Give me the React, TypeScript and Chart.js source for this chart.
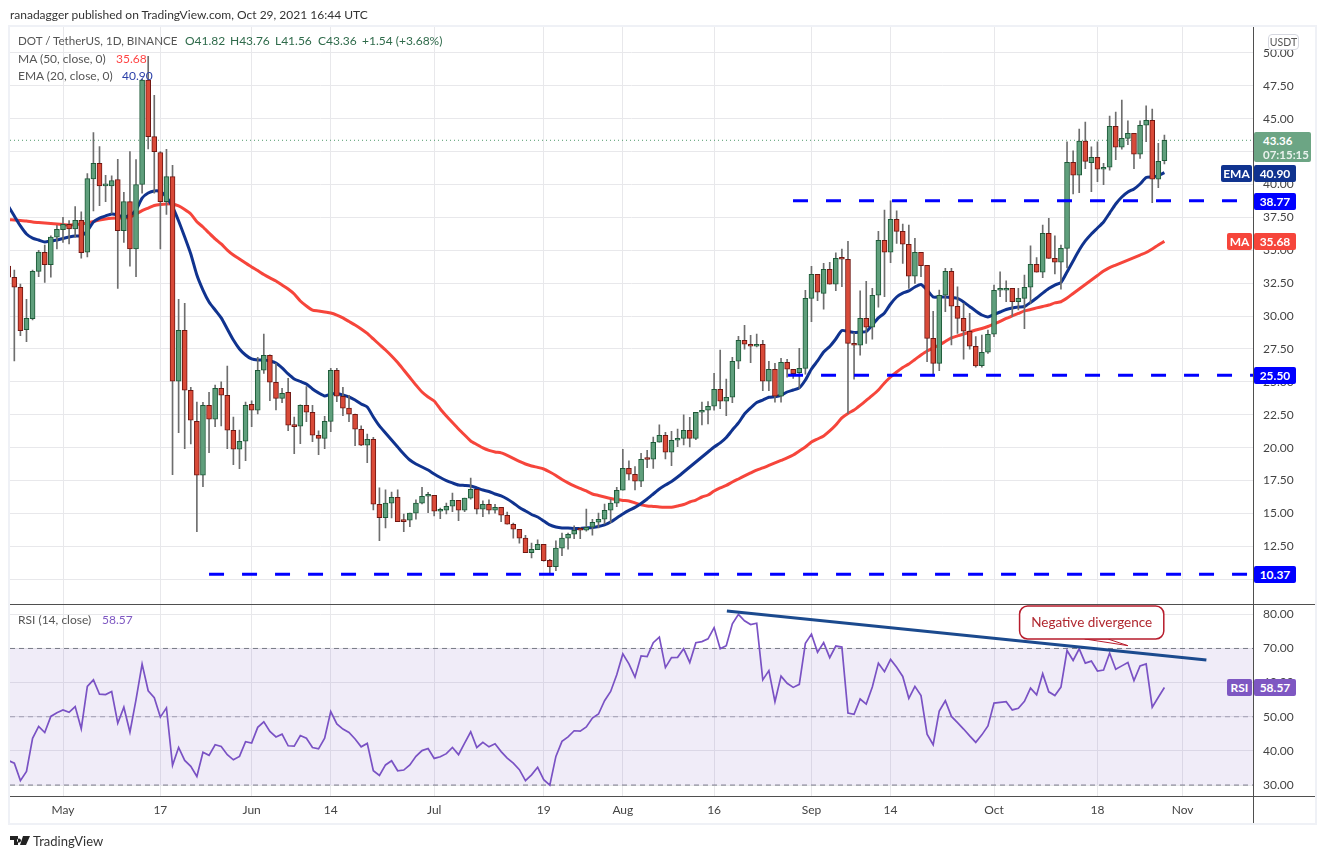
import React, { useEffect, useRef } from "react";
import { Chart, registerables } from "chart.js";

Chart.register(...registerables);

// Day numbers count from 1 May 2021 = 0; the first candle sits at day -9.
const firstDay = -9;

const opens = [
  33.8,32.95,32.19,28.97,29.8,33.4,34.85,33.9,36.0,36.57,
  36.97,36.62,37.27,34.85,40.43,41.6,39.9,39.9,40.38,36.5,
  38.7,35.1,40.0,47.93,43.64,42.43,38.7,40.6,25.05,28.92,
  24.36,22.0,17.9,23.22,22.16,24.51,23.98,21.32,19.88,20.49,
  23.3,22.84,25.88,27.02,24.97,23.75,24.21,21.7,21.63,23.22,
  22.69,20.94,20.71,22.0,25.88,23.91,23.0,22.54,21.4,20.18,
  20.64,15.7,14.68,15.78,16.23,14.45,14.48,15.02,15.78,16.31,
  16.38,15.17,15.24,15.55,16.0,15.24,16.16,16.84,15.32,15.7,
  15.24,15.47,14.86,14.18,13.8,13.12,12.02,12.25,12.66,11.44,
  10.96,12.36,13.12,13.42,13.8,13.72,13.95,14.33,14.56,15.24,
  15.78,16.76,18.43,17.98,17.45,19.15,19.12,20.41,20.94,19.65,
  20.56,20.71,21.32,20.71,22.69,22.84,23.15,24.44,23.53,23.83,
  26.57,28.16,27.86,27.71,27.86,25.05,25.96,23.91,26.49,25.96,
  25.7,26.03,31.35,33.18,31.73,33.56,32.42,34.39,34.32,27.93,
  27.78,29.83,29.15,31.58,35.76,34.85,37.36,36.44,35.46,33.03,
  34.85,33.86,28.31,26.41,31.58,33.4,30.75,29.83,28.85,27.71,
  26.23,27.25,28.62,31.96,31.96,32.11,31.1,31.35,32.19,33.94,
  33.33,36.29,34.39,34.09,35.15,41.69,40.7,43.3,41.66,42.07,
  41.16,41.31,44.42,42.83,43.51,43.89,42.3,44.5,44.88,40.4,41.82,
];

const highs = [
  34.0,33.5,32.44,31.28,33.5,35.0,35.4,36.1,36.9,37.5,
  37.25,38.33,37.93,40.83,43.94,42.88,40.7,40.66,41.92,39.4,
  42.5,41.9,48.0,49.75,46.77,42.5,42.68,41.45,31.28,30.97,
  24.59,23.47,23.45,24.21,24.76,25.0,26.2,22.33,21.34,23.47,
  23.55,26.87,28.64,27.05,26.41,24.51,25.27,22.33,23.25,24.64,
  23.22,21.27,22.39,26.03,26.03,24.59,23.98,22.56,21.65,21.04,
  20.79,16.94,16.79,16.63,16.79,14.96,15.02,16.03,16.99,16.61,
  16.38,15.4,15.78,16.54,16.0,16.16,17.68,16.84,15.95,16.03,
  15.7,15.47,15.11,14.26,13.8,13.34,12.74,12.99,12.66,11.52,
  12.91,13.5,13.5,14.05,13.95,15.34,14.56,15.02,15.72,16.08,
  16.99,19.88,18.99,18.56,19.57,19.8,20.81,21.73,21.17,21.25,
  21.42,22.49,22.31,22.69,23.47,23.5,25.65,27.42,25.22,26.87,
  28.47,29.3,28.54,28.64,28.16,26.57,26.41,26.79,26.72,25.96,
  27.55,31.96,33.78,33.18,34.01,34.09,34.8,35.1,35.68,28.72,
  31.91,32.65,32.11,36.44,38.06,38.75,37.99,37.0,36.92,35.91,
  34.85,33.86,30.37,31.98,33.63,33.63,32.23,30.97,30.21,28.44,
  28.56,28.94,32.36,33.37,32.67,32.11,32.11,33.12,35.33,34.44,
  36.92,37.43,36.09,35.4,43.25,42.55,44.22,44.75,42.87,43.25,
  41.61,45.2,45.51,46.42,44.83,43.89,44.83,45.97,45.74,43.13,43.76,
];

const lows = [
  30.0,26.6,28.51,28.06,29.7,33.0,32.55,32.95,35.1,35.6,
  35.48,36.0,34.4,34.5,38.0,38.4,38.7,37.8,32.1,35.6,
  33.8,33.0,39.35,42.7,39.35,35.1,37.73,17.95,21.14,19.92,
  20.28,13.62,17.04,19.62,21.6,21.65,19.92,18.71,18.4,19.01,
  21.6,22.56,25.65,23.57,22.87,23.42,21.29,19.54,20.3,21.98,
  20.46,19.47,19.92,21.22,23.5,22.43,21.98,20.15,20.15,18.86,
  15.27,12.93,13.9,14.66,14.38,13.62,14.0,14.56,15.72,15.06,
  14.81,14.6,14.96,15.14,14.45,15.14,16.08,14.96,14.76,14.96,
  15.02,14.38,14.18,13.12,12.74,12.02,11.62,12.25,11.37,10.35,
  10.65,11.79,12.28,13.09,13.09,13.65,13.34,13.9,14.2,14.3,
  15.52,16.76,17.55,16.79,17.04,18.48,18.43,20.41,19.14,18.63,
  20.08,20.2,20.05,20.6,21.73,21.8,22.84,22.96,22.43,23.42,
  26.0,27.48,26.46,27.65,24.33,24.33,23.45,23.45,25.35,25.27,
  24.51,25.58,29.57,31.17,30.52,32.42,31.93,32.23,22.61,25.2,
  27.02,27.93,28.24,30.67,31.47,34.06,35.53,34.01,32.11,32.49,
  33.0,26.54,25.45,25.85,30.33,27.8,28.69,26.72,27.48,26.11,
  26.11,27.17,28.44,31.47,31.1,29.95,30.46,29.04,30.97,33.33,
  32.92,34.39,33.2,32.04,33.66,39.28,39.38,41.2,39.45,40.21,
  39.99,41.08,41.89,42.68,43.03,41.2,41.99,43.25,38.62,39.76,41.56,
];

const closes = [
  32.95,32.19,28.89,29.83,33.4,34.87,33.9,36.0,36.6,36.97,
  36.62,37.27,34.82,40.45,41.6,39.9,39.95,40.3,36.5,38.7,
  35.1,40.0,47.93,43.64,42.5,38.7,40.6,25.05,28.92,24.36,
  22.08,17.9,23.22,22.16,24.51,23.98,21.32,19.88,20.49,23.22,
  22.84,25.88,27.02,24.97,23.75,24.13,21.7,21.6,23.22,22.69,
  20.94,20.71,22.0,25.88,23.91,23.0,22.54,21.4,20.18,20.64,
  15.7,14.68,15.78,16.23,14.38,14.38,15.02,15.78,16.31,16.38,
  15.17,15.32,15.55,16.0,15.24,16.16,16.84,15.32,15.7,15.24,
  15.47,14.86,14.18,13.8,13.12,12.02,12.28,12.66,11.41,10.96,
  12.36,13.12,13.42,13.72,13.72,13.95,14.33,14.56,15.24,15.78,
  16.76,18.43,17.98,17.45,19.12,19.1,20.41,20.94,19.65,20.56,
  20.6,21.32,20.71,22.69,22.84,23.15,24.44,23.53,23.83,26.57,
  28.16,27.86,27.71,27.86,25.05,25.96,23.91,26.49,25.96,25.62,
  26.03,31.35,33.18,31.81,33.56,32.42,34.39,34.32,27.93,27.78,
  29.83,29.15,31.58,35.76,34.85,37.36,36.44,35.46,33.03,34.85,
  33.83,28.31,26.41,31.58,33.4,30.75,29.83,28.85,27.71,26.21,
  27.25,28.62,31.96,32.0,32.11,31.1,31.35,32.19,33.94,33.33,
  36.29,34.39,34.09,35.15,41.69,40.7,43.3,41.76,42.07,41.16,
  41.31,44.42,42.83,43.51,43.89,42.3,44.5,44.88,40.4,41.77,43.36,
];

const ema20 = [
  38.37,37.61,36.85,36.24,35.93,35.78,35.63,35.71,35.78,35.9,
  36.01,36.09,36.09,36.47,37.15,37.45,37.61,37.76,37.68,37.53,
  37.68,38.06,38.97,39.35,39.51,39.47,39.05,38.29,37.23,36.01,
  34.72,33.12,31.98,31.07,30.46,
  29.86,29.02,28.18,27.5,27.04,26.74,26.66,26.66,26.59,26.43,
  26.06,25.6,25.22,25.03,24.84,24.46,24.16,23.93,24.08,24.12,
  24.0,23.85,23.62,23.32,23.09,22.33,21.65,21.12,20.58,20.05,
  19.52,19.06,18.76,18.53,18.3,18.0,17.73,17.5,17.32,17.16,
  17.13,17.09,16.94,16.78,16.67,16.48,16.33,16.1,15.8,15.46,
  15.19,14.92,14.73,14.43,14.13,13.97,13.9,13.9,13.86,13.86,
  13.9,13.94,14.01,14.13,14.35,14.66,14.96,15.23,15.46,15.76,
  16.1,16.48,16.86,17.16,17.43,17.77,18.15,18.53,18.91,19.29,
  19.67,20.05,20.36,20.77,21.34,21.88,22.56,23.02,23.43,23.62,
  23.83,23.87,23.97,24.23,24.38,24.54,25.14,25.98,26.59,27.27,
  27.69,28.26,28.9,28.83,28.75,28.79,28.83,29.32,29.86,30.24,
  30.92,31.45,31.75,31.91,32.21,32.4,31.98,31.45,31.45,31.45,
  31.41,31.34,31.07,30.73,30.39,30.08,29.93,30.12,30.31,30.5,
  30.62,30.69,30.73,31.03,31.37,31.75,32.1,32.36,32.55,33.35,
  34.19,35.02,35.71,36.24,36.69,37.15,37.83,38.52,39.05,39.43,
  39.66,40.04,40.53,40.57,40.68,40.9,
];

const ma50 = [
  37.34,37.3,37.26,37.23,37.15,37.11,37.07,37.04,37.0,36.96,
  36.92,36.96,37.0,37.07,37.19,37.3,37.38,37.43,37.45,37.45,
  37.53,37.76,38.02,38.21,38.4,38.48,38.52,38.52,38.37,38.1,
  37.76,37.17,36.77,36.31,35.86,
  35.48,35.02,34.64,34.34,34.03,33.73,33.46,33.16,32.9,32.67,
  32.36,32.06,31.68,31.15,30.77,30.46,30.39,30.31,30.24,30.08,
  29.86,29.59,29.32,29.02,28.68,28.26,27.84,27.42,26.97,26.47,
  25.9,25.33,24.76,24.23,23.85,23.55,22.94,22.41,21.91,21.42,
  20.96,20.51,20.24,19.98,19.79,19.67,19.6,19.41,19.18,18.95,
  18.76,18.61,18.5,18.38,18.15,17.89,17.58,17.32,17.09,16.9,
  16.71,16.48,16.37,16.25,16.14,16.06,15.99,15.95,15.8,15.65,
  15.57,15.53,15.49,15.47,15.47,15.57,15.68,15.87,16.02,16.25,
  16.4,16.71,16.94,17.13,17.39,17.62,17.85,18.08,18.3,18.46,
  18.65,18.84,19.03,19.22,19.44,19.75,20.05,20.43,20.66,20.89,
  21.27,21.72,22.26,22.6,22.86,23.21,23.59,23.97,24.38,24.92,
  25.37,25.75,26.09,26.36,26.7,27.04,27.35,27.58,27.8,28.07,
  28.34,28.49,28.64,28.79,28.94,29.06,29.21,29.4,29.59,29.82,
  30.01,30.2,30.39,30.5,30.62,30.73,30.84,31.0,31.09,31.37,
  31.72,32.06,32.4,32.74,33.08,33.43,33.69,33.88,34.07,34.26,
  34.45,34.64,34.83,35.1,35.4,35.68,
];

const rsi14 = [
  37.2,36.4,31.3,34.0,43.7,47.2,45.4,50.1,51.2,52.0,
  51.3,53.0,46.5,58.9,60.8,56.6,56.5,57.4,48.1,52.8,
  45.5,55.0,65.4,57.6,55.6,49.9,52.6,35.8,41.0,37.2,
  35.5,32.5,39.6,38.7,41.8,41.3,38.9,37.4,38.4,42.7,
  42.3,46.9,48.5,45.7,44.1,44.9,41.5,41.4,44.5,43.7,
  41.0,40.6,43.7,51.5,47.9,46.4,45.4,43.5,41.2,42.2,
  34.2,32.8,35.9,37.1,34.2,34.4,35.9,38.4,40.1,40.7,
  37.8,38.3,39.2,41.0,38.9,42.3,45.6,41.0,42.5,41.2,
  42.1,39.8,37.9,36.4,34.5,31.3,33.0,35.2,31.6,30.0,
  38.4,42.8,44.1,45.9,45.8,47.0,49.6,50.8,54.7,57.4,
  62.3,68.4,65.5,61.6,67.8,67.6,71.7,73.3,64.4,67.3,
  67.4,69.9,65.9,71.7,72.0,72.8,76.1,69.9,70.8,77.2,
  80.0,78.1,77.0,77.4,60.8,63.5,54.4,61.9,59.8,58.6,
  59.5,71.5,74.2,68.9,71.7,67.3,70.7,70.4,51.1,50.7,
  55.2,53.7,58.7,65.7,63.2,66.8,64.5,61.8,55.4,58.9,
  56.2,44.9,41.8,51.7,54.7,50.1,48.3,46.4,44.4,42.5,
  44.7,47.3,54.0,54.2,54.4,52.0,52.5,54.5,58.4,56.4,
  62.6,57.3,56.2,58.7,69.4,66.5,69.9,65.7,66.3,63.4,
  63.7,68.6,63.9,64.9,65.9,60.6,64.9,65.5,52.8,55.7,58.57,
];

const xTickDays = [0, 16, 31, 44, 61, 79, 92, 107, 123, 136, 153, 170, 184];
const xTickLabels = ["May", "17", "Jun", "14", "Jul", "19", "Aug", "16", "Sep", "14", "Oct", "18", "Nov"];
const priceTicks = [10, 12.5, 15, 17.5, 20, 22.5, 25, 27.5, 30, 32.5, 35, 37.5, 40, 42.5, 45, 47.5, 50];
const rsiTicks = [30, 40, 50, 60, 70, 80];

const xRange = [-8.71, 195.56];
const priceRange = [8.08, 51.97];
const rsiRange = [26.8, 82.87];

const lastClose = 43.36;
const supportLevels = [
  { value: 38.77, fromDay: 119.97 },
  { value: 25.5, fromDay: 119.15 },
  { value: 10.37, fromDay: 24.0 },
];
const trendDays = [109.1, 187.9];
const trendValues = [80.96, 66.64];
const calloutDays = [157.2, 180.9];
const calloutValues = [82.43, 72.78];
const calloutTailDays = [167.9, 175.0, 171.7];
const calloutTailValues = [72.78, 70.82, 72.78];

const FONT = "Lato, sans-serif";
const GRID = "#e8e8eb";
const TEXT = "#444444";
const days = closes.map((_, i) => firstDay + i);

function xScaleBase(extra: any) {
  return {
    type: "linear",
    offset: false,
    min: xRange[0],
    max: xRange[1],
    grid: { color: GRID, drawTicks: false, offset: false },
    border: { display: false },
    afterBuildTicks: (s: any) => {
      s.ticks = xTickDays.map((value) => ({ value }));
    },
    ...extra,
  };
}

function yScaleBase(range: number[], ticks: number[]) {
  return {
    position: "right",
    min: range[0],
    max: range[1],
    grid: { color: GRID, drawTicks: false },
    border: { display: false },
    afterBuildTicks: (s: any) => {
      s.ticks = ticks.map((value) => ({ value }));
    },
    afterFit: (s: any) => {
      s.width = 72;
      s.paddingTop = 0;
      s.paddingBottom = 0;
    },
    ticks: {
      color: TEXT,
      padding: 10,
      font: { family: FONT, size: 12 },
      callback: (v: number) => Number(v).toFixed(2),
    },
  };
}

const calloutPlugin = {
  id: "callout",
  afterDatasetsDraw(chart: any) {
    const { ctx, scales } = chart;
    const px = (d: number) => scales.x.getPixelForValue(d);
    const py = (v: number) => scales.y.getPixelForValue(v);
    const l = px(calloutDays[0]);
    const r = px(calloutDays[1]);
    const t = py(calloutValues[0]);
    const b = py(calloutValues[1]);
    ctx.save();
    ctx.strokeStyle = "#b71c2c";
    ctx.fillStyle = "#ffffff";
    ctx.lineWidth = 1;
    ctx.beginPath();
    ctx.moveTo(px(calloutTailDays[0]), py(calloutTailValues[0]));
    ctx.lineTo(px(calloutTailDays[1]), py(calloutTailValues[1]));
    ctx.lineTo(px(calloutTailDays[2]), py(calloutTailValues[2]));
    ctx.closePath();
    ctx.fill();
    ctx.stroke();
    ctx.lineWidth = 1.5;
    ctx.beginPath();
    ctx.roundRect(l, t, r - l, b - t, 8);
    ctx.fill();
    ctx.stroke();
    ctx.fillStyle = "#b0272f";
    ctx.font = `13.5px ${FONT}`;
    ctx.textAlign = "center";
    ctx.textBaseline = "middle";
    ctx.fillText("Negative divergence", (l + r) / 2, (t + b) / 2);
    ctx.restore();
  },
};

function T({ x, y, color = "#555", size = 12, children }: any) {
  return (
    <div
      style={{
        position: "absolute",
        left: x,
        top: y - 10,
        height: 20,
        lineHeight: "20px",
        fontFamily: FONT,
        fontSize: size,
        color,
        whiteSpace: "nowrap",
      }}
    >
      {children}
    </div>
  );
}

function Tag({ x, y, w, h = 17, bg, children, weight = 700 }: any) {
  return (
    <div
      style={{
        position: "absolute",
        left: x,
        top: y,
        width: w,
        height: h,
        lineHeight: `${h}px`,
        background: bg,
        color: "#fff",
        fontFamily: FONT,
        fontSize: 12,
        fontWeight: weight,
        textAlign: "center",
        borderRadius: 2,
      }}
    >
      {children}
    </div>
  );
}

function Rule({ x, y, w, h, color }: any) {
  return <div style={{ position: "absolute", left: x, top: y, width: w, height: h, background: color }} />;
}

export default function App() {
  const priceRef = useRef<HTMLCanvasElement>(null);
  const rsiRef = useRef<HTMLCanvasElement>(null);

  useEffect(() => {
    const priceChart = new Chart(priceRef.current as any, {
      type: "bar",
      data: {
        datasets: [
          ...supportLevels.map((s) => ({
            type: "line",
            order: 1,
            data: [
              { x: s.fromDay, y: s.value },
              { x: xRange[1], y: s.value },
            ],
            borderColor: "#0000ff",
            borderWidth: 3,
            borderDash: [15, 18],
            pointRadius: 0,
          })),
          {
            type: "bar",
            order: 2,
            data: days.map((x, i) => ({ x, y: [Math.min(opens[i], closes[i]), Math.max(opens[i], closes[i])] })),
            barThickness: 5,
            minBarLength: 2,
            borderWidth: 1,
            borderSkipped: false,
            backgroundColor: days.map((_, i) => (closes[i] >= opens[i] ? "#5f9f7c" : "#d94a38")),
            borderColor: days.map((_, i) => (closes[i] >= opens[i] ? "#1d5a38" : "#701712")),
          },
          {
            type: "bar",
            order: 3,
            data: days.map((x, i) => ({ x, y: [lows[i], highs[i]] })),
            barThickness: 1,
            borderWidth: 0,
            backgroundColor: "#6e6e6e",
          },
          {
            type: "line",
            order: 4,
            data: [
              { x: xRange[0], y: lastClose },
              { x: xRange[1], y: lastClose },
            ],
            borderColor: "#4f9a6c",
            borderWidth: 1,
            borderDash: [1, 3],
            pointRadius: 0,
          },
          {
            type: "line",
            order: 5,
            data: days.map((x, i) => ({ x, y: ema20[i] })),
            borderColor: "#10338f",
            borderWidth: 3,
            pointRadius: 0,
            tension: 0.2,
          },
          {
            type: "line",
            order: 6,
            data: days.map((x, i) => ({ x, y: ma50[i] })),
            borderColor: "#f6453b",
            borderWidth: 3,
            pointRadius: 0,
            tension: 0.2,
          },
        ],
      } as any,
      options: {
        responsive: false,
        animation: false,
        devicePixelRatio: 1,
        layout: { padding: { left: 10, top: 27, right: 0, bottom: 0.5 } },
        datasets: { bar: { grouped: false } },
        plugins: { legend: { display: false }, tooltip: { enabled: false } },
        scales: {
          x: xScaleBase({
            ticks: { display: false },
            afterFit: (s: any) => {
              s.height = 0;
              s.paddingLeft = 0;
              s.paddingRight = 0;
            },
          }),
          y: yScaleBase(priceRange, priceTicks),
        },
      } as any,
    });

    const rsiChart = new Chart(rsiRef.current as any, {
      type: "line",
      data: {
        datasets: [
          {
            order: 1,
            data: trendDays.map((x, i) => ({ x, y: trendValues[i] })),
            borderColor: "#1b4a8e",
            borderWidth: 3,
            pointRadius: 0,
          },
          {
            order: 2,
            data: days.map((x, i) => ({ x, y: rsi14[i] })),
            borderColor: "#7a52c4",
            borderWidth: 1.7,
            pointRadius: 0,
          },
          {
            order: 3,
            data: [
              { x: xRange[0], y: 70 },
              { x: xRange[1], y: 70 },
            ],
            borderColor: "#787b86",
            borderWidth: 1,
            borderDash: [5, 4],
            pointRadius: 0,
            fill: "+1",
            backgroundColor: "rgba(126,87,194,0.115)",
          },
          {
            order: 4,
            data: [
              { x: xRange[0], y: 30 },
              { x: xRange[1], y: 30 },
            ],
            borderColor: "#787b86",
            borderWidth: 1,
            borderDash: [5, 4],
            pointRadius: 0,
          },
          {
            order: 5,
            data: [
              { x: xRange[0], y: 50 },
              { x: xRange[1], y: 50 },
            ],
            borderColor: "#a3a5ae",
            borderWidth: 1,
            borderDash: [5, 4],
            pointRadius: 0,
          },
        ],
      } as any,
      options: {
        responsive: false,
        animation: false,
        devicePixelRatio: 1,
        layout: { padding: { left: 10, top: 0.5, right: 0, bottom: 36 } },
        plugins: { legend: { display: false }, tooltip: { enabled: false } },
        scales: {
          x: xScaleBase({
            afterFit: (s: any) => {
              s.height = 27;
              s.paddingLeft = 0;
              s.paddingRight = 0;
            },
            ticks: {
              color: TEXT,
              padding: 7,
              autoSkip: false,
              maxRotation: 0,
              font: { family: FONT, size: 12 },
              callback: (v: number) => xTickLabels[xTickDays.indexOf(v)],
            },
          }),
          y: yScaleBase(rsiRange, rsiTicks),
        },
      } as any,
      plugins: [calloutPlugin],
    });

    return () => {
      priceChart.destroy();
      rsiChart.destroy();
    };
  }, []);

  return (
    <div style={{ position: "absolute", left: 0, top: 0, width: 1325, height: 859, background: "#fff", overflow: "hidden" }}>
      <div
        style={{
          position: "absolute",
          left: 8,
          top: 25,
          width: 1309,
          height: 800,
          boxSizing: "border-box",
          border: "2px solid #eff1f6",
        }}
      />
      <canvas ref={priceRef} width={1325} height={605} style={{ position: "absolute", left: 0, top: 0 }} />
      <canvas ref={rsiRef} width={1325} height={255} style={{ position: "absolute", left: 0, top: 604 }} />

      <Rule x={10} y={604} w={1305} h={1} color="#4f4f4f" />
      <Rule x={10} y={796} w={1305} h={1} color="#4f4f4f" />
      <Rule x={1253} y={27} w={1} h={796} color="#4f4f4f" />

      <T x={10} y={15} color="#333">ranadagger published on TradingView.com, Oct 29, 2021 16:44 UTC</T>

      <T x={18} y={41} size={11.6}>DOT / TetherUS, 1D, BINANCE</T>
      <T x={185} y={41} color="#2f6b4b">O41.82</T>
      <T x={230} y={41} color="#2f6b4b">H43.76</T>
      <T x={275} y={41} color="#2f6b4b">L41.56</T>
      <T x={318} y={41} color="#2f6b4b">C43.36</T>
      <T x={362} y={41} color="#2f6b4b">+1.54 (+3.68%)</T>
      <T x={18} y={59}>MA (50, close, 0)</T>
      <T x={116} y={59} color="#ff4444">35.68</T>
      <T x={18} y={76}>EMA (20, close, 0)</T>
      <T x={122} y={76} color="#2a3fa8">40.90</T>
      <T x={18} y={620}>RSI (14, close)</T>
      <T x={102} y={620} color="#7e57c2">58.57</T>

      <div
        style={{
          position: "absolute",
          left: 1268,
          top: 34,
          width: 31,
          height: 16,
          lineHeight: "15px",
          boxSizing: "border-box",
          border: "1px solid #d6d8e0",
          borderRadius: 4,
          background: "#fff",
          color: "#555",
          fontFamily: FONT,
          fontSize: 10.5,
          textAlign: "center",
        }}
      >
        USDT
      </div>

      <div
        style={{
          position: "absolute",
          left: 1254,
          top: 132,
          width: 57,
          height: 30,
          background: "#6ca584",
          color: "#fff",
          fontFamily: FONT,
          fontSize: 11.5,
          fontWeight: 700,
          lineHeight: "14px",
          paddingTop: 2,
          boxSizing: "border-box",
          paddingLeft: 9,
          borderRadius: 2,
        }}
      >
        <div>43.36</div>
        <div style={{ opacity: 0.85 }}>07:15:15</div>
      </div>

      <Tag x={1221} y={165} w={31} bg="#10338f">EMA</Tag>
      <Tag x={1254} y={165} w={42} bg="#10338f">40.90</Tag>
      <Tag x={1254} y={193} w={42} bg="#0000ff">38.77</Tag>
      <Tag x={1227} y={233} w={25} bg="#f6453b">MA</Tag>
      <Tag x={1254} y={233} w={42} bg="#f6453b">35.68</Tag>
      <Tag x={1254} y={367} w={42} bg="#0000ff">25.50</Tag>
      <Tag x={1254} y={566} w={42} bg="#0000ff">10.37</Tag>
      <Tag x={1227} y={679} w={25} bg="#7e57c2">RSI</Tag>
      <Tag x={1254} y={679} w={42} bg="#7e57c2">58.57</Tag>

      <svg style={{ position: "absolute", left: 10, top: 836 }} width={20} height={10} viewBox="0 0 20 10">
        <path d="M0 0h8v9H4V4H0z M9 2.5a2 2 0 1 0 .01 0z M13 0h7l-4 9h-6z" fill="#222" />
      </svg>
      <T x={33} y={841} color="#333" size={13}>TradingView</T>
    </div>
  );
}
